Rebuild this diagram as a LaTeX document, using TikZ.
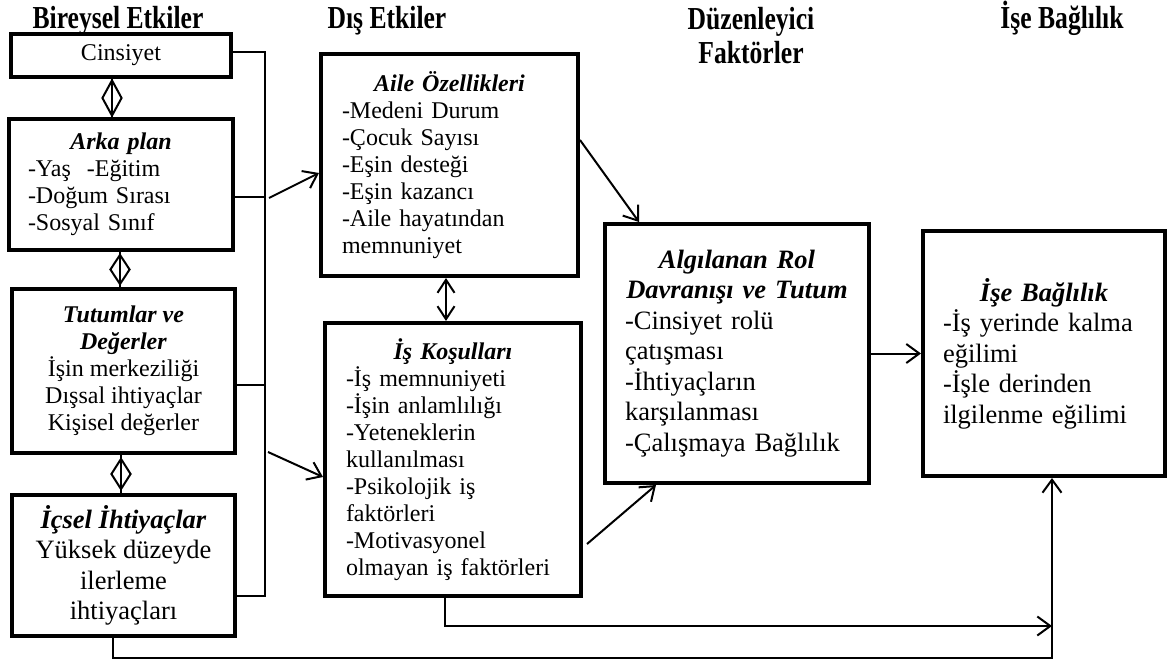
\documentclass[tikz,border=0pt]{standalone}
\usepackage{fontspec}
\setmainfont{Liberation Serif}
\newfontfamily\hdrfont[FakeStretch=0.8]{Liberation Serif}
\usetikzlibrary{arrows.meta,shapes.geometric,calc}
\setlength{\parindent}{0pt}
\newcommand{\boxttl}[1]{\makebox[\linewidth][c]{\bfseries\itshape #1}}
\begin{document}
\begin{tikzpicture}[x=1pt,y=-1pt,
  box/.style={draw, line width=4pt, inner sep=0pt},
  body/.style={font=\fontsize{24}{27}\selectfont},
  big/.style={font=\fontsize{26.5}{30.5}\selectfont},
  hdr/.style={font=\hdrfont\fontsize{32}{34}\selectfont\bfseries, align=center, inner sep=0pt},
  conn/.style={line width=1.6pt},
  arr/.style={line width=2pt, -{Straight Barb[length=13pt,width=19pt]}},
  darr/.style={line width=2pt, {Straight Barb[length=13pt,width=17pt]}-{Straight Barb[length=13pt,width=17pt]}},
  dmd/.style={draw, diamond, line width=2pt, minimum width=20pt, inner sep=0pt}
]
\useasboundingbox (0,0) rectangle (1173,661);

% headers
\node[hdr, anchor=base] (h1) at (118,29) {Bireysel Etkiler};
\node[hdr, anchor=base] (h2) at (387,29) {Dış Etkiler};
\node[hdr, anchor=north] (h3) at (751,7) {Düzenleyici\\Faktörler};
\node[hdr, anchor=base] (h4) at (1062,29) {İşe Bağlılık};

% left column
\node[box, body, minimum width=220pt, minimum height=43pt] (cins) at (121,55.5) {Cinsiyet};
\node[box, body, minimum width=224pt, minimum height=131pt, text width=186pt, align=left] (arka) at (121,184.5)
  {\boxttl{Arka plan}\\-Yaş~~-Eğitim\\-Doğum Sırası\\-Sosyal Sınıf};
\node[box, body, minimum width=223pt, minimum height=164pt, align=center] (tutum) at (123.5,371)
  {\textbf{\textit{Tutumlar ve}}\\\textbf{\textit{Değerler}}\\İşin merkeziliği\\Dışsal ihtiyaçlar\\Kişisel değerler};
\node[box, big, minimum width=223pt, minimum height=141pt, align=center] (icsel) at (123.5,565.5)
  {\textbf{\textit{İçsel İhtiyaçlar}}\\Yüksek düzeyde\\ilerleme\\ihtiyaçları};

% middle column
\node[box, body, minimum width=257pt, minimum height=222pt, text width=215pt, align=left] (aile) at (449.5,165)
  {\boxttl{Aile Özellikleri}\\-Medeni Durum\\-Çocuk Sayısı\\-Eşin desteği\\-Eşin kazancı\\-Aile hayatından\\memnuniyet};
\node[box, body, minimum width=256pt, minimum height=273pt, text width=214pt, align=left] (is) at (453,459.5)
  {\boxttl{İş Koşulları}\\-İş memnuniyeti\\-İşin anlamlılığı\\-Yeteneklerin\\kullanılması\\-Psikolojik iş\\faktörleri\\-Motivasyonel\\olmayan iş faktörleri};

% right columns
\node[box, big, minimum width=264pt, minimum height=259pt, text width=224pt, align=left] (alg) at (737,353.5)
  {\boxttl{Algılanan Rol}\\\boxttl{Davranışı ve Tutum}\\-Cinsiyet rolü\\çatışması\\-İhtiyaçların\\karşılanması\\-Çalışmaya Bağlılık};
\node[box, big, minimum width=242pt, minimum height=245pt, text width=202pt, align=left] (ise) at (1044,353.5)
  {\boxttl{İşe Bağlılık}\\-İş yerinde kalma\\eğilimi\\-İşle derinden\\ilgilenme eğilimi};

% diamonds between left boxes
\coordinate (d1) at (112,0);
\coordinate (d2) at (120,0);
\coordinate (d3) at (121,0);
\draw[conn] (cins.south -| d1) -- node[dmd, minimum height=36pt]{} (arka.north -| d1);
\draw[conn] (arka.south -| d2) -- node[dmd, minimum height=30pt]{} (tutum.north -| d2);
\draw[conn] (tutum.south -| d3) -- node[dmd, minimum height=31pt]{} (icsel.north -| d3);

% bracket
\coordinate (bt) at (265,52);
\coordinate (bb) at (265,596);
\coordinate (b2) at (265,197);
\coordinate (b3) at (265,385);
\draw[conn] (cins.east |- bt) -- (bt) -- (bb) -- (icsel.east |- bb);
\draw[conn] (arka.east |- b2) -- (b2);
\draw[conn] (tutum.east |- b3) -- (b3);

% arrows
\coordinate (s1) at (269,198);
\coordinate (s2) at (268,452);
\draw[arr] (s1) -- ($(aile.west)+(0,8)$);
\draw[arr] (s2) -- ($(is.west)+(0,17.5)$);
\draw[arr] ($(aile.east)+(0,-25)$) -- ($(alg.north)+(-98,0)$);
\draw[arr] ($(is.east)+(4,84.5)$) -- ($(alg.south)+(-81,0)$);
\draw[arr] (alg.east) -- (ise.west);
\draw[darr] ($(aile.south)+(-3.5,0)$) -- ($(is.north)+(-7,0)$);

% bottom connectors
\coordinate (r1) at (1052,626);
\coordinate (r2) at (1052,658);
\draw[arr] ($(is.south)+(-8,0)$) |- (r1);
\draw[arr] ($(icsel.south)+(-10.5,0)$) |- (r2) -- (ise.south -| r2);
\end{tikzpicture}
\end{document}
